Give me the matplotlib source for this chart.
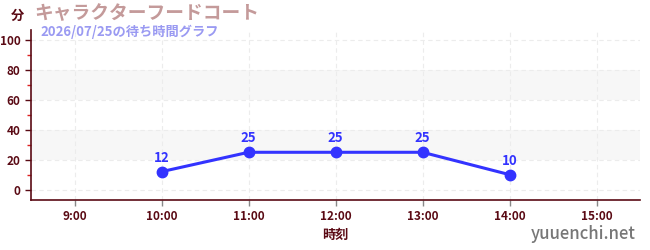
import numpy as np
import matplotlib
matplotlib.use('Agg')
import matplotlib.pyplot as plt

plt.rcParams['font.family'] = ['Noto Sans CJK JP', 'DejaVu Sans']

# data
hours = [10, 11, 12, 13, 14]
waits = [12, 25, 25, 25, 10]
tick_hours = [9, 10, 11, 12, 13, 14, 15]
tick_labels = ['9:00', '10:00', '11:00', '12:00', '13:00', '14:00', '15:00']
title = 'キャラクターフードコート'
subtitle = '2026/07/25の待ち時間グラフ'

dark = '#5a0a14'
blue = '#3333ff'

fig = plt.figure(figsize=(6.5, 2.5), dpi=100)
ax = fig.add_axes([0.0477, 0.2, 0.937, 0.68])

ax.set_xlim(8.5, 15.5)
ax.set_ylim(-7, 107)

# bands
for lo, hi in [(20, 40), (60, 80)]:
    ax.axhspan(lo, hi, color='#f7f7f7', zorder=0, lw=0)

ax.set_yticks([0, 20, 40, 60, 80, 100])
ax.set_yticks([10, 30, 50, 70, 90], minor=True)
ax.set_xticks(tick_hours)
ax.set_xticklabels(tick_labels)
ax.grid(True, which='major', color='#ececec', ls=(0, (4, 3)), lw=0.8, zorder=0)

ax.plot(hours, waits, color=blue, lw=2.2, marker='o', ms=7.5, zorder=3)
for h, w in zip(hours, waits):
    ax.annotate(str(w), (h, w), xytext=(0, 5), textcoords='offset points',
                ha='center', va='bottom', color=blue, fontsize=9.5, fontweight='bold')

for s in ['top', 'right']:
    ax.spines[s].set_visible(False)
for s in ['left', 'bottom']:
    ax.spines[s].set_color(dark)
    ax.spines[s].set_linewidth(1.2)

ax.tick_params(axis='both', which='major', colors=dark, labelsize=8.5, length=4, width=1)
ax.tick_params(axis='y', which='minor', colors='#dd2222', length=3, width=1)
ax.tick_params(axis='x', colors='#888888', labelcolor=dark)
for lbl in ax.get_xticklabels() + ax.get_yticklabels():
    lbl.set_fontweight('bold')

ax.set_xlabel('時刻', color=dark, fontsize=9.5, fontweight='bold', labelpad=3)

fig.text(0.016, 0.935, '分', color=dark, fontsize=9.5, fontweight='bold', va='center')
fig.text(0.052, 0.945, title, color='#c49a9a', fontsize=13.5, fontweight='bold', va='center')
fig.text(0.062, 0.872, subtitle, color='#9a9af2', fontsize=9.5, fontweight='bold', va='center')
fig.text(0.978, 0.065, 'yuuenchi.net', color='#777777', fontsize=12, fontweight='medium',
         ha='right', va='center')

fig.savefig('out.png', dpi=100)
